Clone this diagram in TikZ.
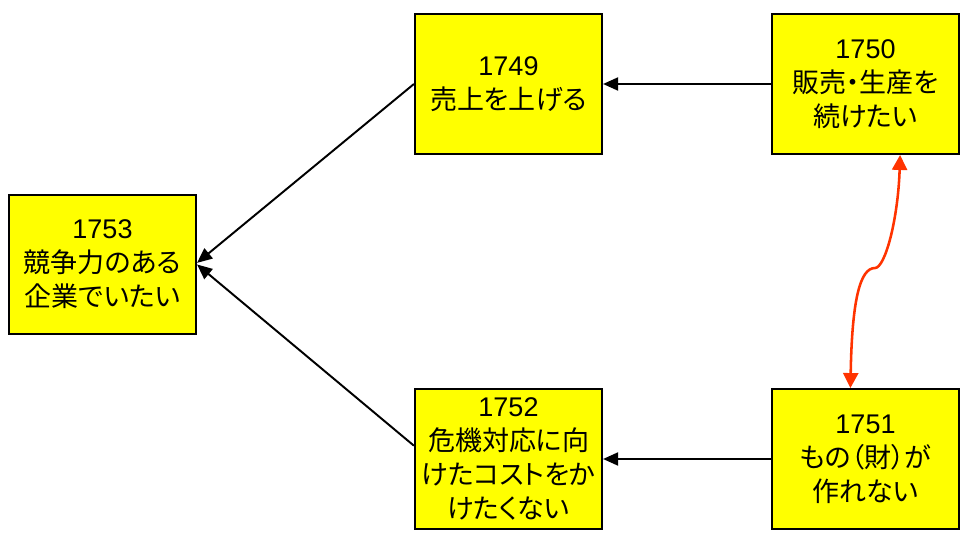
\documentclass[tikz,border=0pt]{standalone}
\usepackage{fontspec}
\setmainfont[RawFeature=+palt]{Noto Sans CJK JP}
\newfontfamily\numfont{Liberation Sans}
\usetikzlibrary{arrows.meta}
\newlength{\du}
\setlength{\du}{15\unitlength}
\definecolor{boxfill}{rgb}{1.000000, 1.000000, 0.000000}
\definecolor{linkred}{rgb}{1.000000, 0.200000, 0.000000}
\tikzset{
  goalbox/.style={draw=black, fill=boxfill, line width=0.16\du, inner sep=0pt,
    minimum width=12.45\du, minimum height=9.3\du, align=center,
    font=\fontsize{27}{34}\selectfont},
  causearrow/.style={draw=black, line width=0.13\du, -{Triangle[length=15pt,width=13pt]}},
  conflict/.style={draw=linkred, line width=0.17\du, {Triangle[length=15pt,width=15pt]}-{Triangle[length=15pt,width=15pt]}}
}
\begin{document}
\begin{tikzpicture}
\pgftransformxscale{1.000000}
\pgftransformyscale{-1.000000}
\useasboundingbox (0\du,0\du) rectangle (64.066667\du,35.666667\du);
% setfont left to latex
\node[goalbox] (b1753) at (6.833333\du,17.633333\du){{\numfont 1753}\\競争力のある\\企業でいたい};
\node[goalbox] (b1749) at (33.900000\du,5.600000\du){{\numfont 1749}\\売上を上げる};
\node[goalbox] (b1750) at (57.700000\du,5.600000\du){{\numfont 1750}\\販売・生産を\\続けたい};
\node[goalbox] (b1752) at (33.900000\du,30.600000\du){{\numfont 1752}\\危機対応に向\\けたコストをか\\けたくない};
\node[goalbox] (b1751) at (57.700000\du,30.600000\du){{\numfont 1751}\\もの（財）が\\作れない};
% arrows
\draw[causearrow] (b1750.west)--(b1749.east);
\draw[causearrow] (b1751.west)--(b1752.east);
\draw[causearrow] (b1749.west)--(b1753.1.5);
\draw[causearrow] (b1752.172)--(b1753.-0.5);
% was here!!!
\coordinate (kink) at (58.333333\du,17.866667\du);
\draw[conflict] (b1751.102) .. controls (56.800000\du,20.000000\du) and (57.333333\du,17.866667\du) .. (kink)
  .. controls (59.000000\du,17.866667\du) and (59.866667\du,14.666667\du) .. (b1750.-64);
\end{tikzpicture}
\end{document}
